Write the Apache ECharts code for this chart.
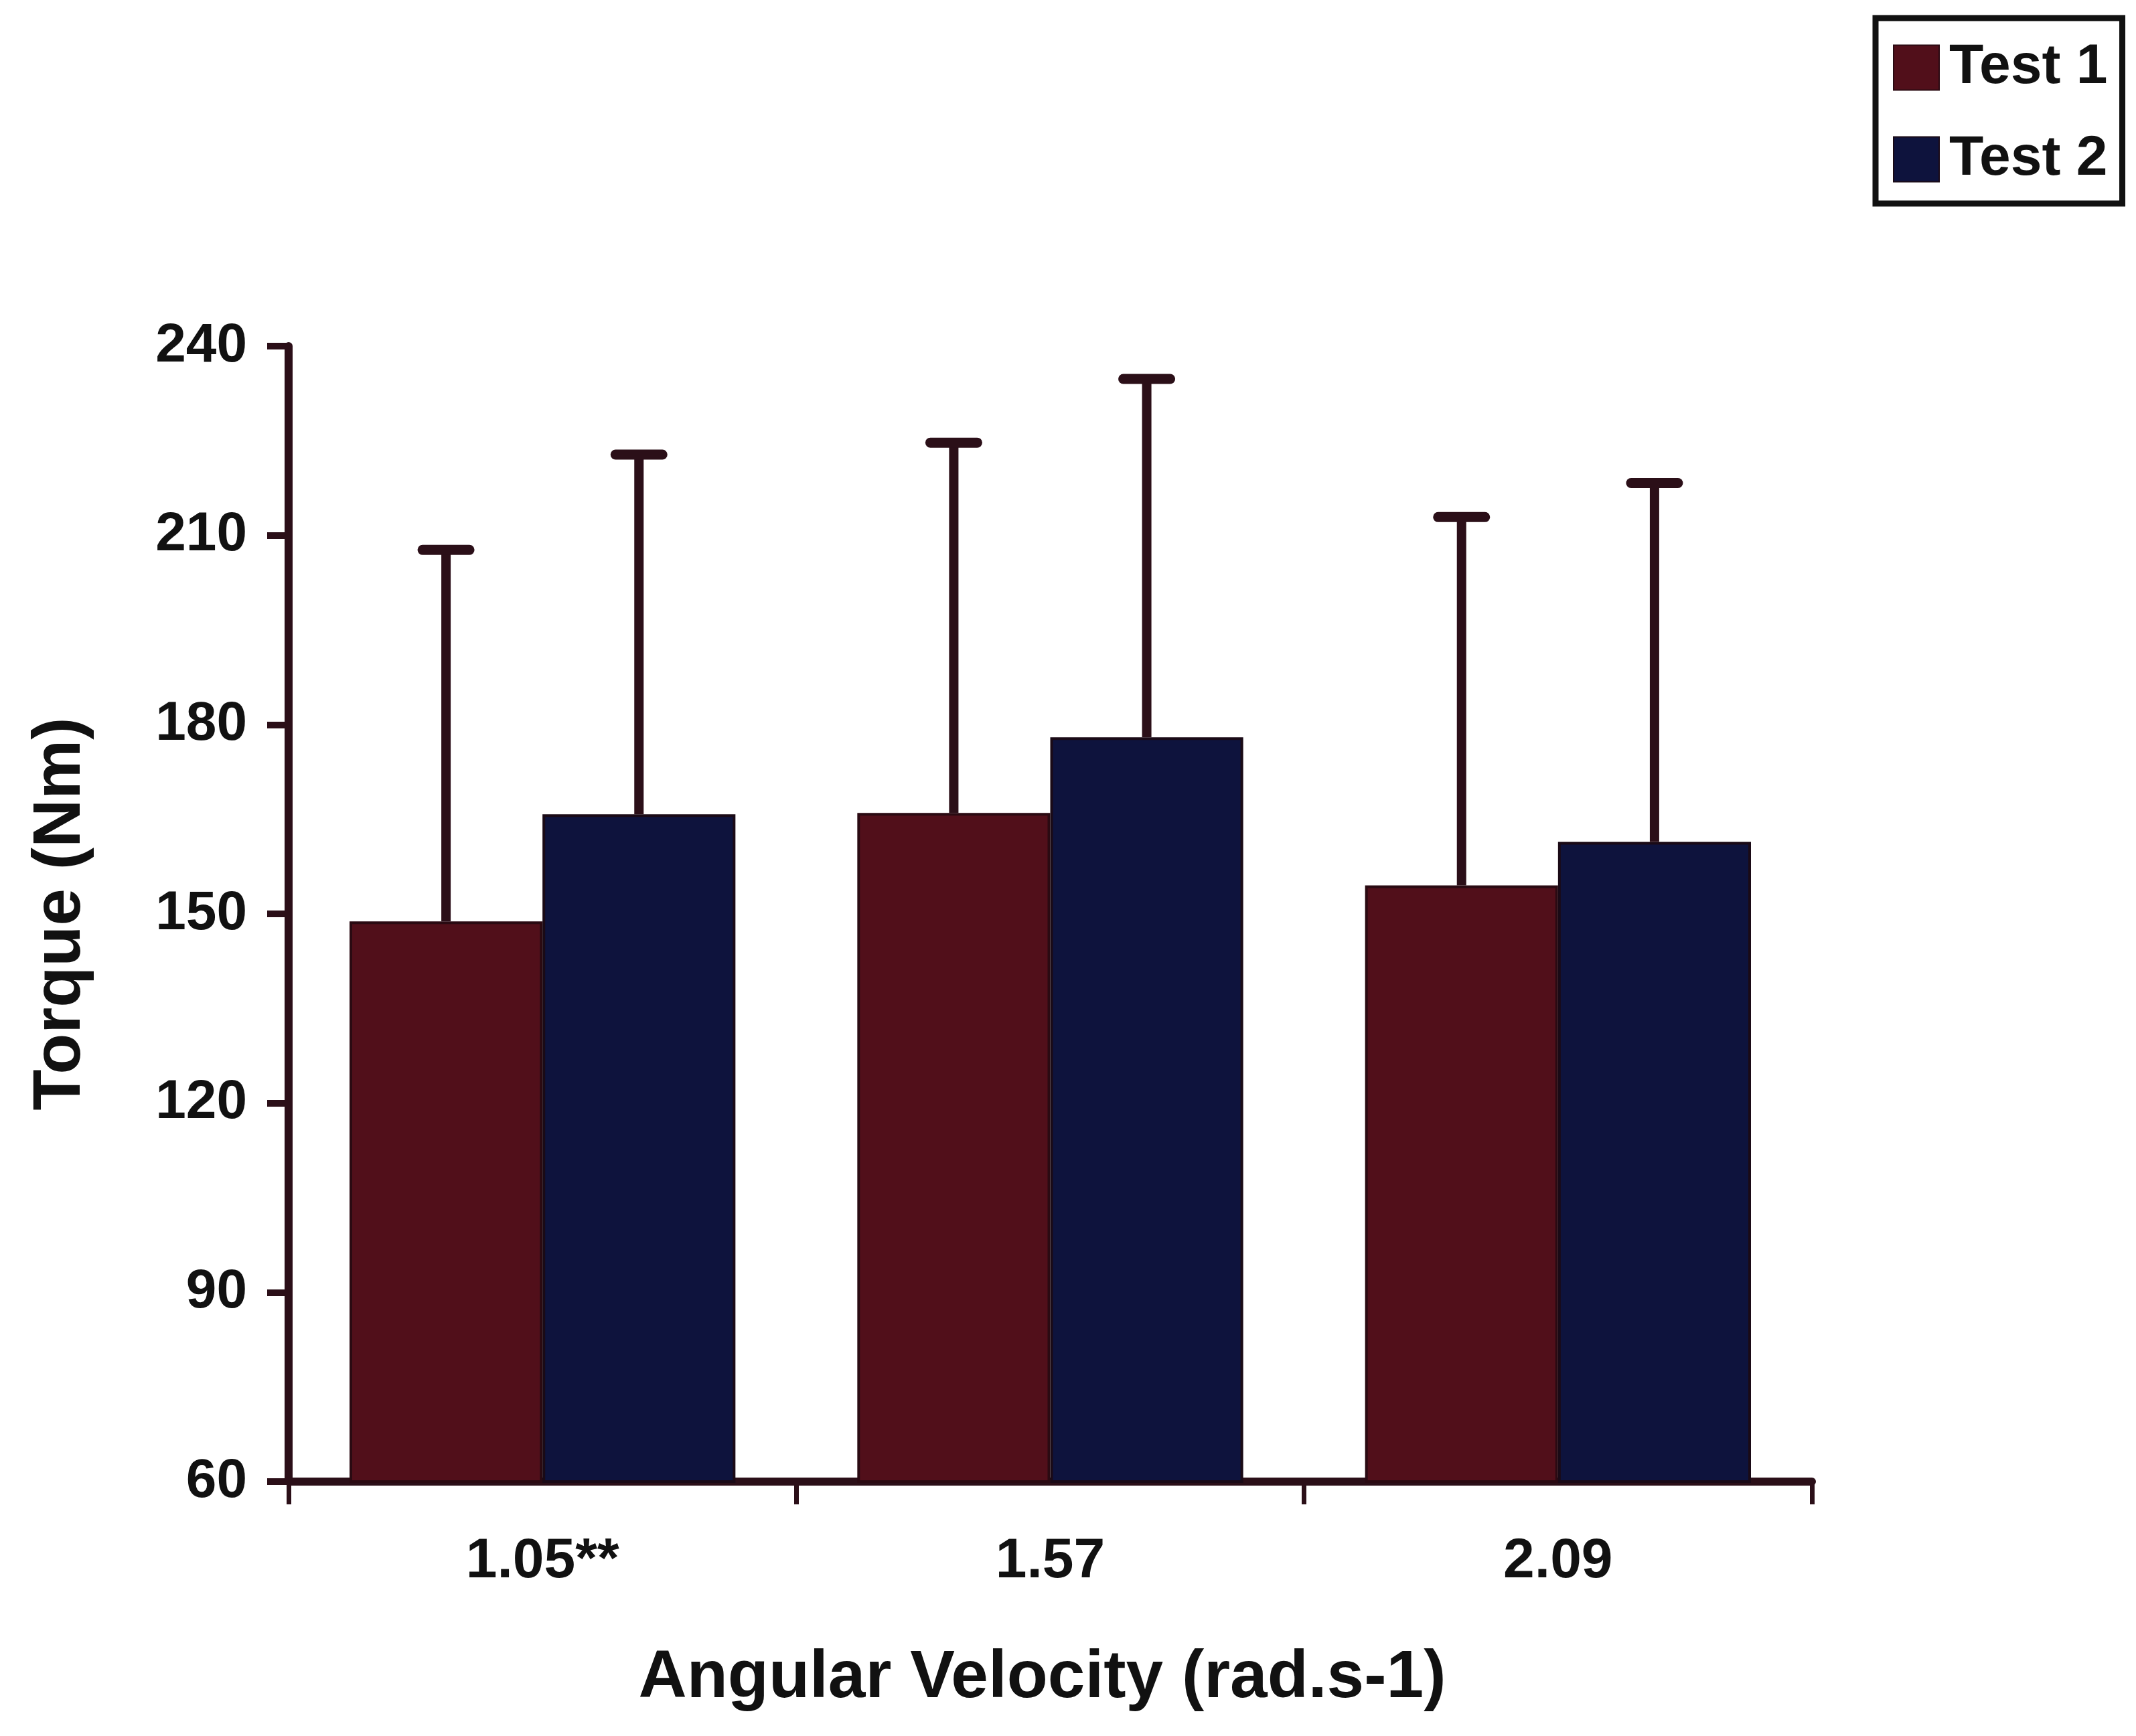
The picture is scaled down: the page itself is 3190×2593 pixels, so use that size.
<!DOCTYPE html>
<html>
<head>
<meta charset="utf-8">
<script src="https://cdn.jsdelivr.net/npm/echarts@6/dist/echarts.min.js"></script>
<style>
html,body{margin:0;padding:0;background:#ffffff;}
#chart{width:3190px;height:2593px;}
</style>
</head>
<body>
<div id="chart"></div>
<script>
const categories = ['1.05**', '1.57', '2.09'];
const test1Mean = [148.8, 166.0, 154.5];
const test2Mean = [165.8, 178.0, 161.4];
const test1SD = [58.9, 58.7, 58.4];
const test2SD = [57.0, 56.8, 56.9];
const yTicks = [60, 90, 120, 150, 180, 210, 240];

const FONT = '"Liberation Sans", Arial, sans-serif';
const AXIS_COLOR = '#2b0f18';
const RED = '#510f1a';
const BLUE = '#0e133d';
const CAT_GAP = 0.24;

function errorSeries(seriesIndex, means, sds, name) {
  const data = means.map((m, i) => [i, m, m + sds[i]]);
  return {
    type: 'custom',
    name: name + ' SD',
    data: data,
    z: 5,
    silent: true,
    encode: { x: 0, y: [1, 2] },
    renderItem: function (params, api) {
      const idx = api.value(0);
      const base = api.coord([idx, api.value(1)]);
      const top = api.coord([idx, api.value(2)]);
      const catW = api.size([1, 0])[0];
      const barW = catW * (1 - CAT_GAP) / 2;
      const x = base[0] + (seriesIndex - 0.5) * barW;
      const capHalf = 35;
      const style = { stroke: AXIS_COLOR, lineWidth: 14, lineCap: 'butt' };
      return {
        type: 'group',
        children: [
          { type: 'line', shape: { x1: x, y1: base[1], x2: x, y2: top[1] }, style: style },
          { type: 'line', shape: { x1: x - capHalf, y1: top[1], x2: x + capHalf, y2: top[1] },
            style: { stroke: AXIS_COLOR, lineWidth: 15, lineCap: 'round' } }
        ]
      };
    }
  };
}

const chart = echarts.init(document.getElementById('chart'), null, { renderer: 'canvas' });
chart.setOption({
  backgroundColor: '#ffffff',
  animation: false,
  textStyle: { fontFamily: FONT },
  grid: { left: 431, right: 484, top: 517, bottom: 380, containLabel: false },
  legend: {
    orient: 'vertical',
    left: 2801,
    top: 27,
    padding: [32, 22, 24, 26],
    borderColor: '#111111',
    borderWidth: 9,
    backgroundColor: '#ffffff',
    itemWidth: 68,
    itemHeight: 67,
    itemGap: 53,
    icon: 'rect',
    data: ['Test 1', 'Test 2'],
    textStyle: { fontFamily: FONT, fontWeight: 'bold', fontSize: 84, color: '#111111', padding: [0, 0, 0, 10] }
  },
  xAxis: {
    type: 'category',
    data: categories,
    name: 'Angular Velocity (rad.s-1)',
    nameLocation: 'middle',
    nameGap: 244,
    nameTextStyle: { fontFamily: FONT, fontWeight: 'bold', fontSize: 100, color: '#111111', padding: [0, 24, 0, 0] },
    axisLine: { show: true, lineStyle: { color: AXIS_COLOR, width: 12 } },
    axisTick: { show: true, length: 34, lineStyle: { color: AXIS_COLOR, width: 7 }, alignWithLabel: false },
    axisLabel: { fontFamily: FONT, fontWeight: 'bold', fontSize: 84, color: '#111111', margin: 78 },
    splitLine: { show: false }
  },
  yAxis: {
    type: 'value',
    min: 60,
    max: 240,
    interval: 30,
    name: 'Torque (Nm)',
    nameLocation: 'middle',
    nameGap: 290,
    nameTextStyle: { fontFamily: FONT, fontWeight: 'bold', fontSize: 100, color: '#111111' },
    axisLine: { show: true, lineStyle: { color: AXIS_COLOR, width: 12 } },
    axisTick: { show: true, length: 32, lineStyle: { color: AXIS_COLOR, width: 10 } },
    axisLabel: {
      fontFamily: FONT, fontWeight: 'bold', fontSize: 82, color: '#111111', margin: 62,
      formatter: function (v) { return yTicks.indexOf(v) >= 0 ? String(v) : ''; }
    },
    splitLine: { show: false }
  },
  series: [
    {
      type: 'bar',
      name: 'Test 1',
      data: test1Mean,
      barGap: '0%',
      barCategoryGap: (CAT_GAP * 100) + '%',
      itemStyle: { color: RED, borderColor: '#2a0a12', borderWidth: 4 },
      z: 3
    },
    {
      type: 'bar',
      name: 'Test 2',
      data: test2Mean,
      barGap: '0%',
      barCategoryGap: (CAT_GAP * 100) + '%',
      itemStyle: { color: BLUE, borderColor: '#1a0a16', borderWidth: 4 },
      z: 3
    },
    errorSeries(0, test1Mean, test1SD, 'Test 1'),
    errorSeries(1, test2Mean, test2SD, 'Test 2')
  ]
});
</script>
</body>
</html>
